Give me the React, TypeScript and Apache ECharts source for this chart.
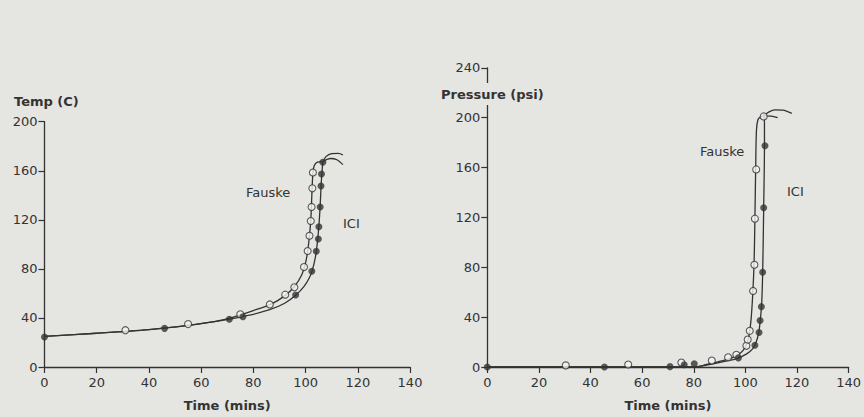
import React, { useEffect, useRef } from "react";
import * as echarts from "echarts";

// ---- Data ----
const timeTicks = [0, 20, 40, 60, 80, 100, 120, 140];

// Left panel: Temperature (C) vs Time (mins)
const fauskeTempPoints = [
  [31, 30], [55, 35], [75, 43], [86.3, 51], [92.2, 59], [95.7, 65], [99.4, 81.5],
  [100.8, 94.6], [101.5, 107], [102, 119], [102.3, 130.5], [102.6, 145.7], [102.8, 158.6],
];
const iciTempPoints = [
  [0, 24.5], [46, 31.5], [70.8, 39], [76, 41], [96.2, 58.7], [102.4, 78], [104.1, 94.4],
  [104.9, 104.3], [105.1, 114.3], [105.6, 130.5], [105.9, 147.6], [106.1, 157.3], [106.6, 167],
];
const fauskeTempCurve = [
  [0, 25], [20, 27.5], [40, 30.5], [55, 34], [65, 37], [72, 40.5], [80, 46], [87, 51.5],
  [92, 58], [95.5, 65], [98.5, 75], [100.3, 88], [101.3, 103], [102, 120], [102.4, 140],
  [102.8, 158], [103.3, 164], [104.5, 167], [106.6, 167.5],
];
const iciTempCurve = [
  [0, 25], [20, 27.5], [40, 30.5], [55, 34], [65, 37], [71, 39], [78, 42], [86, 46.5],
  [92, 52], [96.2, 58.5], [99.5, 66], [101.5, 73], [102.6, 79], [103.8, 90], [104.6, 103],
  [105.2, 118], [105.6, 132], [106, 150], [106.4, 162], [106.6, 167],
];
const tempArcUpper = [[106.6, 167], [107.8, 171.5], [110, 174], [112.5, 174.2], [114.3, 173]];
const tempArcLower = [[107, 168], [109.5, 170], [112, 169], [114.3, 165]];

// Right panel: Pressure (psi) vs Time (mins)
const fauskePresPoints = [
  [30.4, 1.3], [54.6, 2], [75.2, 3.6], [87, 5.2], [93.3, 7.8], [96.5, 9.8], [100.4, 17],
  [100.9, 22], [101.7, 29], [103, 61], [103.5, 82], [103.7, 119], [104.2, 158.5], [107.1, 201],
];
const iciPresPoints = [
  [0, 0], [45.4, 0], [70.8, 0.3], [76.3, 1.8], [80.2, 2.6], [97.3, 7.3], [103.7, 17.4],
  [105.3, 27.7], [105.7, 37.3], [106.2, 48.4], [106.7, 76], [107.1, 127.7], [107.6, 177.5],
];
const fauskePresCurve = [
  [0, 0], [80, 0], [85, 2], [90, 4.5], [95, 7.5], [98, 11], [100, 16], [101.3, 24],
  [102.2, 38], [102.9, 60], [103.4, 85], [103.7, 120], [104, 160], [104.3, 190],
  [104.9, 198.5], [106, 201], [107.1, 201.5],
];
const iciPresCurve = [
  [0, 0], [80, 0], [86, 2], [92, 4.5], [97, 7], [100.5, 10.5], [102.8, 14.5], [104.2, 20],
  [105.2, 28], [105.8, 38], [106.3, 50], [106.7, 75], [107.1, 128], [107.4, 178],
  [107.4, 196], [107.2, 201.5],
];
const presArcUpper = [[107.1, 201.5], [109, 204.5], [111.5, 206.3], [114.5, 206], [118, 203.5]];
const presArcLower = [[107.4, 201.5], [110, 201.3], [112.5, 200]];

const BG = "#e5e5e2";
const INK = "#333333";
const FONT = "DejaVu Sans";

export default function App() {
  const ref = useRef<HTMLDivElement>(null);

  useEffect(() => {
    if (!ref.current) return;
    const chart = echarts.init(ref.current, undefined, { renderer: "svg" });

    const axisCommon = {
      type: "value" as const,
      axisLine: { show: true, onZero: false, lineStyle: { color: INK, width: 1.3 } },
      axisTick: { show: true, inside: false, length: 6, lineStyle: { color: INK, width: 1.2 } },
      splitLine: { show: false },
      axisLabel: {
        color: INK, fontSize: 13, fontFamily: FONT, margin: 7,
        showMinLabel: true, showMaxLabel: true,
      },
    };
    const xAxis = (gridIndex: number) => ({
      ...axisCommon,
      gridIndex,
      min: timeTicks[0],
      max: timeTicks[timeTicks.length - 1],
      interval: 20,
      name: "Time (mins)",
      nameLocation: "middle",
      nameGap: 32,
      nameTextStyle: { color: INK, fontSize: 13, fontWeight: "bold", fontFamily: FONT },
      axisLabel: { ...axisCommon.axisLabel, margin: 9 },
    });

    const line = (data: number[][], idx: number) => ({
      type: "line",
      xAxisIndex: idx,
      yAxisIndex: idx,
      data,
      smooth: 0.3,
      symbol: "none",
      lineStyle: { color: INK, width: 1.3 },
      z: 2,
    });
    const open = (data: number[][], idx: number) => ({
      type: "scatter",
      xAxisIndex: idx,
      yAxisIndex: idx,
      data,
      symbol: "circle",
      symbolSize: 7,
      itemStyle: { color: "#f3f3f1", borderColor: INK, borderWidth: 1.1 },
      z: 4,
    });
    const filled = (data: number[][], idx: number) => ({
      type: "scatter",
      xAxisIndex: idx,
      yAxisIndex: idx,
      data,
      symbol: "circle",
      symbolSize: 7,
      itemStyle: { color: INK, borderWidth: 0 },
      z: 4,
    });

    const label = (text: string, x: number, y: number, bold = false, size = 13) => ({
      type: "text",
      x,
      y,
      z: 101,
      style: {
        text,
        fill: INK,
        font: `${bold ? "bold " : ""}${size}px ${FONT}`,
        align: "left",
        verticalAlign: "middle",
      },
    });

    chart.setOption({
      animation: false,
      backgroundColor: BG,
      grid: [
        { left: 44.5, top: 121.7, width: 365.5, height: 254.3 },
        { left: 487.3, top: 67.8, width: 362.7, height: 308.9 },
      ],
      xAxis: [xAxis(0), xAxis(1)],
      yAxis: [
        { ...axisCommon, gridIndex: 0, min: 0, max: 200, interval: 40 },
        { ...axisCommon, gridIndex: 1, min: 0, max: 240, interval: 40 },
      ],
      series: [
        line(fauskeTempCurve, 0),
        line(iciTempCurve, 0),
        line(tempArcUpper, 0),
        line(tempArcLower, 0),
        open(fauskeTempPoints, 0),
        filled(iciTempPoints, 0),
        line(fauskePresCurve, 1),
        line(iciPresCurve, 1),
        line(presArcUpper, 1),
        line(presArcLower, 1),
        open(fauskePresPoints, 1),
        filled(iciPresPoints, 1),
      ],
      graphic: [
        label("Temp (C)", 14, 101, true, 13),
        {
          type: "rect",
          z: 100,
          shape: { x: 483, y: 83, width: 9, height: 22 },
          style: { fill: BG },
        },
        label("Pressure (psi)", 441, 94.5, true, 13),
        label("Fauske", 246, 192.5),
        label("ICI", 343, 223.5),
        label("Fauske", 700, 151.5),
        label("ICI", 787, 191),
      ],
    });

    return () => chart.dispose();
  }, []);

  return (
    <div
      ref={ref}
      style={{ position: "absolute", left: 0, top: 0, width: 864, height: 417, background: BG }}
    />
  );
}
